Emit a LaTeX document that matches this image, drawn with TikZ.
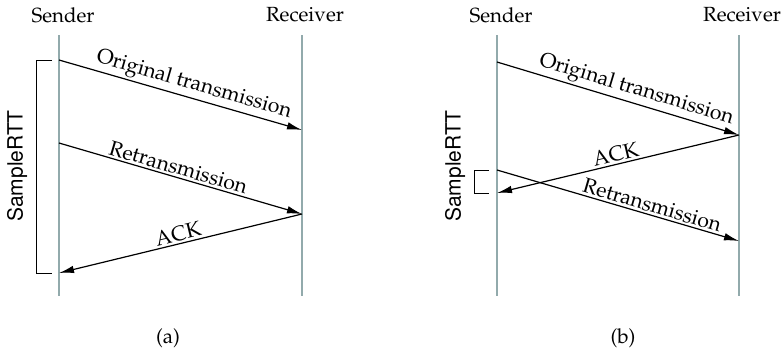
\documentclass[tikz,border=0pt]{standalone}
\usepackage[T1]{fontenc}
\usepackage{mathpazo}
\usepackage[scaled=1]{helvet}
\usepackage{tikz}
\usetikzlibrary{arrows.meta, positioning, calc}
\definecolor{lifecol}{HTML}{92AAAC}
\tikzset{
  lifeline/.style={line width=2.8pt, lifecol},
  msg/.style={line width=1.2pt, -{Latex[length=15pt,width=7.5pt]}},
  msglabel/.style={sloped, above, font=\fontsize{21}{24}\selectfont, inner sep=2pt},
  head/.style={font=\fontsize{20.5}{24}\selectfont},
  rttlabel/.style={font=\fontsize{21}{24}\sffamily, rotate=90},
  bracket/.style={line width=0.9pt}
}

\begin{document}
\begin{tikzpicture}[x=1pt, y=-1pt]
        \useasboundingbox (0,0) rectangle (784,349);
        % (a)
        \node[head] (sa) at (63,15) {Sender};
        \node[head] (ra) at (305,15) {Receiver};
        \draw[lifeline] (59,35) coordinate (sa top) -- (59,296) coordinate (sa bot);
        \draw[lifeline] (302,35) coordinate (ra top) -- (302,296) coordinate (ra bot);
        \coordinate (a1) at (59,60);  \coordinate (a2) at (302,130);
        \coordinate (a3) at (59,143); \coordinate (a4) at (302,214);
        \coordinate (a5) at (59,273);
        \draw[msg] (a1) -- node[msglabel, pos=0.54] {Original transmission} (a2);
        \draw[msg] (a3) -- node[msglabel, pos=0.48] {Retransmission} (a4);
        \draw[msg] (a4) -- node[msglabel, pos=0.5] {ACK} (a5);
        \draw[bracket] (52,60) -| (36,273) -- (52,273);
        \node[rttlabel] (rtta) at (17,166) {SampleRTT};
        \node[head] (capa) at (168,338) {(a)};
        % (b)
        \node[head] (sb) at (501,15) {Sender};
        \node[head] (rb) at (742,15) {Receiver};
        \draw[lifeline] (497,35) coordinate (sb top) -- (497,296) coordinate (sb bot);
        \draw[lifeline] (739,35) coordinate (rb top) -- (739,296) coordinate (rb bot);
        \coordinate (b1) at (497,62);  \coordinate (b2) at (739,135);
        \coordinate (b3) at (497,193); \coordinate (b4) at (497,170);
        \coordinate (b5) at (739,241);
        \draw[msg] (b1) -- node[msglabel, pos=0.56] {Original transmission} (b2);
        \draw[msg] (b2) -- node[msglabel, pos=0.5] {ACK} (b3);
        \draw[msg] (b4) -- node[msglabel, pos=0.63] {Retransmission} (b5);
        \draw[bracket] (489,170) -| (474,193) -- (489,193);
        \node[rttlabel] (rttb) at (455,166) {SampleRTT};
        \node[head] (capb) at (623,338) {(b)};
      \end{tikzpicture}
\end{document}
